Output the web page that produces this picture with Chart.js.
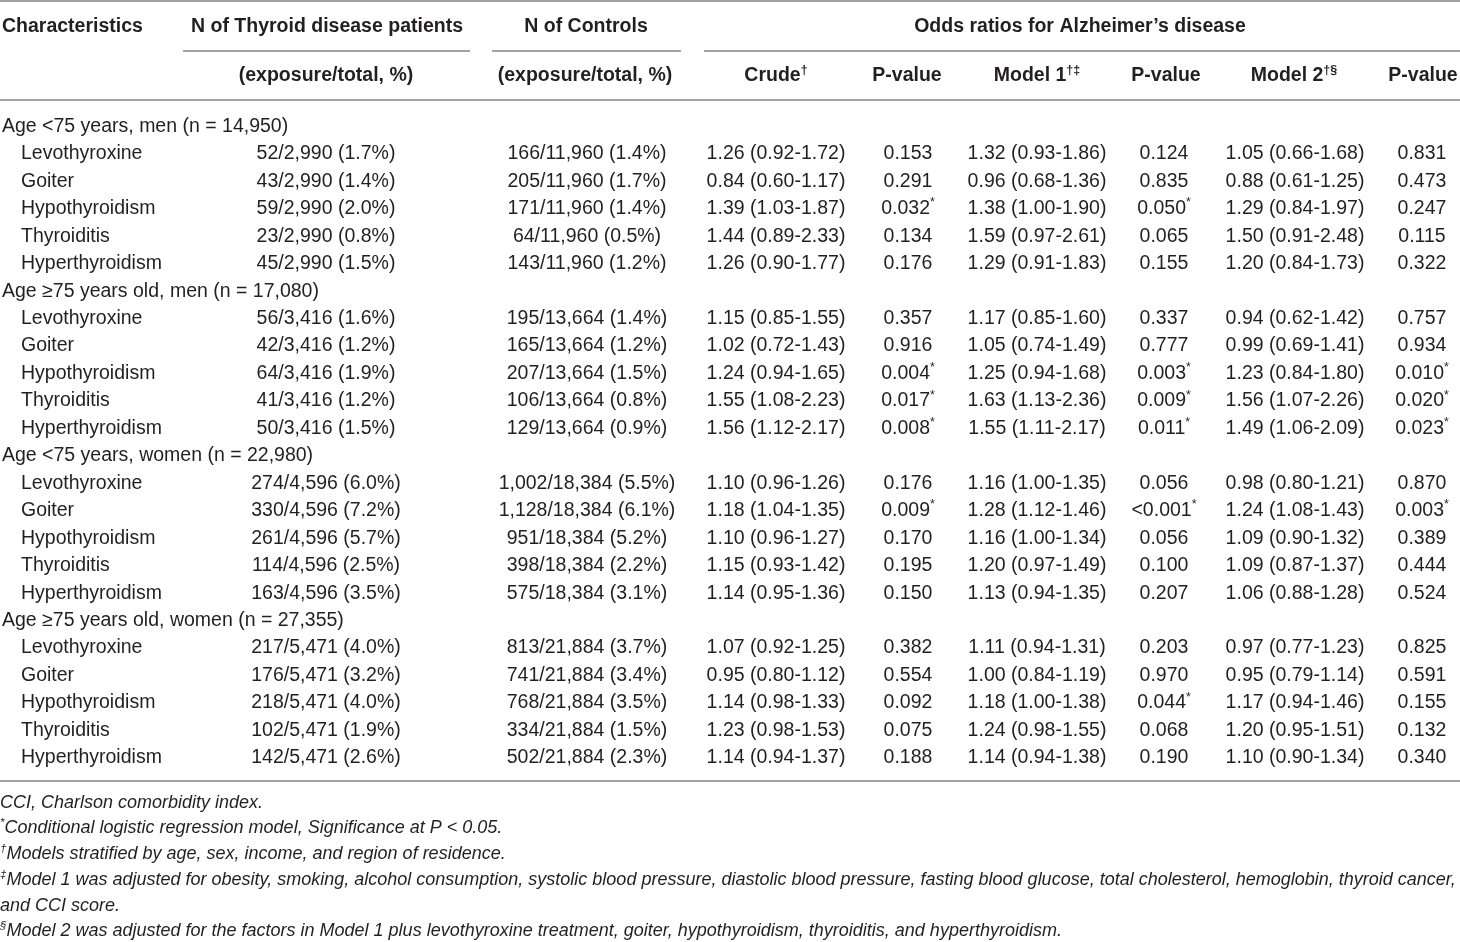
<!DOCTYPE html>
<html><head><meta charset="utf-8">
<script src="https://cdn.jsdelivr.net/npm/chart.js@4.4.1/dist/chart.umd.min.js"></script>
<style>html,body{margin:0;padding:0;background:#fff}#wrap{width:1460px;height:942px;position:relative}canvas{display:block}</style>
</head><body><div id="wrap"><canvas id="c" width="1460" height="942"></canvas></div>
<script>
// ---------------- DATA ----------------
const groups = [
  "Age <75 years, men (n = 14,950)",
  "Age \u226575 years old, men (n = 17,080)",
  "Age <75 years, women (n = 22,980)",
  "Age \u226575 years old, women (n = 27,355)"
];
const conditions = ["Levothyroxine","Goiter","Hypothyroidism","Thyroiditis","Hyperthyroidism"];

const patients = [
  ["52/2,990 (1.7%)","43/2,990 (1.4%)","59/2,990 (2.0%)","23/2,990 (0.8%)","45/2,990 (1.5%)"],
  ["56/3,416 (1.6%)","42/3,416 (1.2%)","64/3,416 (1.9%)","41/3,416 (1.2%)","50/3,416 (1.5%)"],
  ["274/4,596 (6.0%)","330/4,596 (7.2%)","261/4,596 (5.7%)","114/4,596 (2.5%)","163/4,596 (3.5%)"],
  ["217/5,471 (4.0%)","176/5,471 (3.2%)","218/5,471 (4.0%)","102/5,471 (1.9%)","142/5,471 (2.6%)"]
];
const controls = [
  ["166/11,960 (1.4%)","205/11,960 (1.7%)","171/11,960 (1.4%)","64/11,960 (0.5%)","143/11,960 (1.2%)"],
  ["195/13,664 (1.4%)","165/13,664 (1.2%)","207/13,664 (1.5%)","106/13,664 (0.8%)","129/13,664 (0.9%)"],
  ["1,002/18,384 (5.5%)","1,128/18,384 (6.1%)","951/18,384 (5.2%)","398/18,384 (2.2%)","575/18,384 (3.1%)"],
  ["813/21,884 (3.7%)","741/21,884 (3.4%)","768/21,884 (3.5%)","334/21,884 (1.5%)","502/21,884 (2.3%)"]
];
const crudeOR = [
  ["1.26 (0.92-1.72)","0.84 (0.60-1.17)","1.39 (1.03-1.87)","1.44 (0.89-2.33)","1.26 (0.90-1.77)"],
  ["1.15 (0.85-1.55)","1.02 (0.72-1.43)","1.24 (0.94-1.65)","1.55 (1.08-2.23)","1.56 (1.12-2.17)"],
  ["1.10 (0.96-1.26)","1.18 (1.04-1.35)","1.10 (0.96-1.27)","1.15 (0.93-1.42)","1.14 (0.95-1.36)"],
  ["1.07 (0.92-1.25)","0.95 (0.80-1.12)","1.14 (0.98-1.33)","1.23 (0.98-1.53)","1.14 (0.94-1.37)"]
];
const crudeP = [
  ["0.153","0.291","0.032*","0.134","0.176"],
  ["0.357","0.916","0.004*","0.017*","0.008*"],
  ["0.176","0.009*","0.170","0.195","0.150"],
  ["0.382","0.554","0.092","0.075","0.188"]
];
const model1OR = [
  ["1.32 (0.93-1.86)","0.96 (0.68-1.36)","1.38 (1.00-1.90)","1.59 (0.97-2.61)","1.29 (0.91-1.83)"],
  ["1.17 (0.85-1.60)","1.05 (0.74-1.49)","1.25 (0.94-1.68)","1.63 (1.13-2.36)","1.55 (1.11-2.17)"],
  ["1.16 (1.00-1.35)","1.28 (1.12-1.46)","1.16 (1.00-1.34)","1.20 (0.97-1.49)","1.13 (0.94-1.35)"],
  ["1.11 (0.94-1.31)","1.00 (0.84-1.19)","1.18 (1.00-1.38)","1.24 (0.98-1.55)","1.14 (0.94-1.38)"]
];
const model1P = [
  ["0.124","0.835","0.050*","0.065","0.155"],
  ["0.337","0.777","0.003*","0.009*","0.011*"],
  ["0.056","<0.001*","0.056","0.100","0.207"],
  ["0.203","0.970","0.044*","0.068","0.190"]
];
const model2OR = [
  ["1.05 (0.66-1.68)","0.88 (0.61-1.25)","1.29 (0.84-1.97)","1.50 (0.91-2.48)","1.20 (0.84-1.73)"],
  ["0.94 (0.62-1.42)","0.99 (0.69-1.41)","1.23 (0.84-1.80)","1.56 (1.07-2.26)","1.49 (1.06-2.09)"],
  ["0.98 (0.80-1.21)","1.24 (1.08-1.43)","1.09 (0.90-1.32)","1.09 (0.87-1.37)","1.06 (0.88-1.28)"],
  ["0.97 (0.77-1.23)","0.95 (0.79-1.14)","1.17 (0.94-1.46)","1.20 (0.95-1.51)","1.10 (0.90-1.34)"]
];
const model2P = [
  ["0.831","0.473","0.247","0.115","0.322"],
  ["0.757","0.934","0.010*","0.020*","0.023*"],
  ["0.870","0.003*","0.389","0.444","0.524"],
  ["0.825","0.591","0.155","0.132","0.340"]
];

const headerTop = ["Characteristics","N of Thyroid disease patients","N of Controls","Odds ratios for Alzheimer\u2019s disease"];
const headerSub = [
  [{t:"(exposure/total, %)"}],
  [{t:"(exposure/total, %)"}],
  [{t:"Crude"},{t:"\u2020",sup:true}],
  [{t:"P-value"}],
  [{t:"Model 1"},{t:"\u2020\u2021",sup:true}],
  [{t:"P-value"}],
  [{t:"Model 2"},{t:"\u2020\u00a7",sup:true}],
  [{t:"P-value"}]
];
const footnotes = [
  [{t:"CCI, Charlson comorbidity index."}],
  [{t:"*",sup:true},{t:"Conditional logistic regression model, Significance at P < 0.05."}],
  [{t:"\u2020",sup:true},{t:"Models stratified by age, sex, income, and region of residence."}],
  [{t:"\u2021",sup:true},{t:"Model 1 was adjusted for obesity, smoking, alcohol consumption, systolic blood pressure, diastolic blood pressure, fasting blood glucose, total cholesterol, hemoglobin, thyroid cancer,"}],
  [{t:"and CCI score."}],
  [{t:"\u00a7",sup:true},{t:"Model 2 was adjusted for the factors in Model 1 plus levothyroxine treatment, goiter, hypothyroidism, thyroiditis, and hyperthyroidism."}]
];

// ---------------- LAYOUT ----------------
const W = 1460, H = 942;
const FONT = '"Liberation Sans", Arial, "Helvetica Neue", sans-serif';
const SIZE = 19.5, FOOT_SIZE = 18;
const INK = '#231f20', RULE = '#a3a3a3';
const COL_X = [2, 326, 587, 776, 908, 1037, 1164, 1295, 1422];
const HEAD_X = [2, 327, 586, 1080];
const SUB_X = [326, 585, 776, 907, 1037, 1166, 1294, 1423];
const Y_HEAD1 = 26.5, Y_UNDER = 50.5, Y_HEAD2 = 76, Y_RULE_TOP = 1, Y_RULE_HEAD = 100;
const ROW0 = 126.5, ROW_H = 27.45, Y_RULE_BOT = 781, FOOT0 = 802.5, FOOT_H = 25.75;
const UNDERLINES = [[183, 470], [492, 681], [704, 1460]];
const INDENT = 21;

// Build rows
const rows = [];
groups.forEach((g, gi) => {
  rows.push({kind: 'group', label: g});
  conditions.forEach((c, ci) => rows.push({kind: 'item', label: c, gi, ci}));
});
const valueCols = [patients, controls, crudeOR, crudeP, model1OR, model1P, model2OR, model2P];

const datasets = [];
datasets.push({
  label: 'Characteristics',
  data: rows.map((r, i) => ({x: r.kind === 'item' ? INDENT : COL_X[0], y: ROW0 + i * ROW_H, t: r.label})),
  align: 'left'
});
valueCols.forEach((arr, k) => {
  const data = [];
  rows.forEach((r, i) => {
    if (r.kind === 'item') data.push({x: COL_X[k + 1], y: ROW0 + i * ROW_H, t: arr[r.gi][r.ci]});
  });
  datasets.push({label: 'col' + k, data, align: 'center'});
});
datasets.forEach(d => { d.pointRadius = 0; d.pointHoverRadius = 0; d.showLine = false; });

// ---------------- DRAWING ----------------
function segs(text) {
  if (text.endsWith('*')) return [{t: text.slice(0, -1)}, {t: '*', sup: true}];
  return [{t: text}];
}
function drawRich(ctx, parts, x, y, align, size, weight, style) {
  const main = `${style || 'normal'} ${weight || 'normal'} ${size}px ${FONT}`;
  const small = `${style || 'normal'} ${weight || 'normal'} ${size * 0.64}px ${FONT}`;
  let total = 0;
  parts.forEach(p => { ctx.font = p.sup ? small : main; p.w = ctx.measureText(p.t).width; total += p.w; });
  let cx = align === 'center' ? x - total / 2 : (align === 'right' ? x - total : x);
  ctx.textAlign = 'left';
  ctx.textBaseline = 'middle';
  parts.forEach(p => {
    ctx.font = p.sup ? small : main;
    ctx.fillText(p.t, cx, p.sup ? y - size * 0.3 : y);
    cx += p.w;
  });
}

const tablePlugin = {
  id: 'tablePlugin',
  afterDatasetsDraw(chart) {
    const ctx = chart.ctx;
    const xs = chart.scales.x, ys = chart.scales.y;
    ctx.save();
    // rules
    ctx.strokeStyle = RULE;
    ctx.lineWidth = 2;
    const hline = (x0, x1, y) => {
      const py = Math.round(ys.getPixelForValue(y));
      ctx.beginPath();
      ctx.moveTo(xs.getPixelForValue(x0), py);
      ctx.lineTo(xs.getPixelForValue(x1), py);
      ctx.stroke();
    };
    hline(0, W, Y_RULE_TOP);
    hline(0, W, Y_RULE_HEAD);
    hline(0, W, Y_RULE_BOT);
    UNDERLINES.forEach(u => hline(u[0], u[1], Y_UNDER));

    ctx.fillStyle = INK;
    // header
    headerTop.forEach((h, i) => {
      drawRich(ctx, [{t: h}], xs.getPixelForValue(HEAD_X[i]), ys.getPixelForValue(Y_HEAD1), i === 0 ? 'left' : 'center', SIZE, 'bold');
    });
    headerSub.forEach((h, i) => {
      drawRich(ctx, h.map(p => Object.assign({}, p)), xs.getPixelForValue(SUB_X[i]), ys.getPixelForValue(Y_HEAD2), 'center', SIZE, 'bold');
    });
    // body cells from dataset elements
    chart.data.datasets.forEach((ds, di) => {
      const meta = chart.getDatasetMeta(di);
      meta.data.forEach((el, j) => {
        drawRich(ctx, segs(ds.data[j].t), el.x, el.y, ds.align, SIZE, 'normal');
      });
    });
    // footnotes
    footnotes.forEach((f, i) => {
      drawRich(ctx, f.map(p => Object.assign({}, p)), xs.getPixelForValue(0), ys.getPixelForValue(FOOT0 + i * FOOT_H), 'left', FOOT_SIZE, 'normal', 'italic');
    });
    ctx.restore();
  }
};

new Chart(document.getElementById('c'), {
  type: 'scatter',
  data: {datasets},
  options: {
    responsive: false,
    animation: false,
    devicePixelRatio: 1,
    layout: {padding: 0},
    events: [],
    plugins: {legend: {display: false}, tooltip: {enabled: false}},
    scales: {
      x: {type: 'linear', min: 0, max: W, display: false},
      y: {type: 'linear', min: 0, max: H, reverse: true, display: false}
    }
  },
  plugins: [tablePlugin]
});
</script>
</body></html>
